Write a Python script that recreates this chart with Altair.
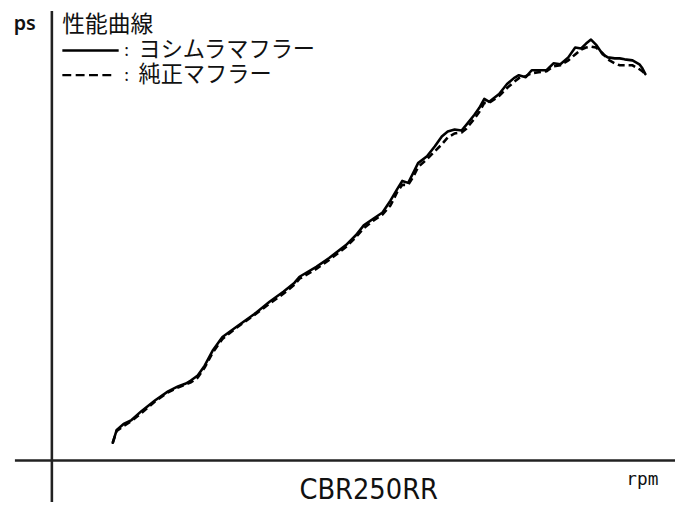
import altair as alt
import pandas as pd

# engine speed (rpm) sample points
rpm = [5500, 5600, 5775, 5975, 6225, 6575, 6900, 7150, 7350, 7475, 7650, 7825, 8025, 8275,
       8650, 9075, 9475, 9825, 10100, 10225, 10650, 10975, 11400, 11650, 11850, 12100, 12325,
       12525, 12700, 12825, 12975, 13100, 13225, 13450, 13650, 13825, 13975, 14150, 14325,
       14450, 14650, 14775, 14900, 15025, 15275, 15475, 15650, 15775, 15950, 16100, 16275,
       16475, 16650, 16825, 17025, 17200, 17350, 17475, 17600, 17725, 17900, 18025, 18200,
       18325, 18450, 18650, 18825, 18900, 18975]

# ヨシムラマフラー (solid)
ps_yoshimura = [1.8, 3.1, 3.7, 4.1, 5.0, 6.1, 7.0, 7.5, 7.8, 8.1, 8.6, 9.6, 11.1, 12.5, 13.6,
                14.8, 16.1, 17.1, 18.0, 18.6, 19.6, 20.5, 21.8, 22.8, 23.8, 24.5, 25.1, 26.3,
                27.5, 28.3, 28.1, 29.1, 30.1, 30.8, 31.8, 32.8, 33.3, 33.5, 33.4, 34.0, 35.0,
                35.7, 36.6, 36.3, 37.1, 38.1, 38.7, 39.0, 38.8, 39.5, 39.5, 39.5, 40.2, 40.1,
                40.8, 41.8, 41.7, 42.2, 42.6, 42.1, 41.1, 40.8, 40.7, 40.7, 40.6, 40.5, 40.1,
                39.7, 39.1]

# 純正マフラー (dashed)
ps_stock = [1.8, 3.0, 3.5, 4.0, 4.8, 6.0, 6.9, 7.4, 7.7, 7.9, 8.4, 9.4, 10.9, 12.3, 13.5,
            14.7, 15.9, 16.9, 17.8, 18.4, 19.4, 20.3, 21.6, 22.6, 23.5, 24.3, 24.9, 25.8,
            27.2, 27.9, 27.9, 28.7, 29.7, 30.5, 31.3, 32.0, 32.7, 33.1, 33.2, 33.6, 34.6,
            35.3, 36.2, 36.2, 36.9, 37.7, 38.3, 38.7, 38.9, 39.2, 39.3, 39.4, 39.9, 40.0,
            40.5, 41.1, 41.6, 41.8, 41.9, 41.8, 41.2, 40.6, 40.2, 40.0, 40.0, 40.0, 39.6,
            39.4, 39.1]

series_names = ["ヨシムラマフラー", "純正マフラー"]
title_text = "性能曲線"
model_text = "CBR250RR"
x_unit = "rpm"
y_unit = "ps"

W, H = 675, 497
x_dom = [2850, 2850 + W * 25]
y_dom = [45.5 - H / 10, 45.5]

# axis cross lines (data coordinates)
h_axis = {"x": [3025], "x2": [x_dom[1]], "y": [0.0]}
v_axis = {"x": [3960], "y": [y_dom[0]], "y2": [y_dom[1]]}

df_solid = pd.DataFrame({"rpm": rpm, "ps": ps_yoshimura})
df_stock = pd.DataFrame({"rpm": rpm, "ps": ps_stock})

xs = alt.Scale(domain=x_dom, nice=False, zero=False)
ys = alt.Scale(domain=y_dom, nice=False, zero=False)

solid = alt.Chart(df_solid).mark_line(
    color="black", strokeWidth=2.6, strokeJoin="round", strokeCap="round"
).encode(x=alt.X("rpm:Q", scale=xs, axis=None), y=alt.Y("ps:Q", scale=ys, axis=None))

dashed = alt.Chart(df_stock).mark_line(
    color="black", strokeWidth=2.6, strokeDash=[7, 4]
).encode(x=alt.X("rpm:Q", scale=xs, axis=None), y=alt.Y("ps:Q", scale=ys, axis=None))

hline = alt.Chart(pd.DataFrame(h_axis)).mark_rule(color="#222", strokeWidth=2.6).encode(
    x=alt.X("x:Q", scale=xs, axis=None), x2="x2:Q", y=alt.Y("y:Q", scale=ys, axis=None)
)
vline = alt.Chart(pd.DataFrame(v_axis)).mark_rule(color="#222", strokeWidth=2.6).encode(
    x=alt.X("x:Q", scale=xs, axis=None), y=alt.Y("y:Q", scale=ys, axis=None), y2="y2:Q"
)

one = alt.Chart(pd.DataFrame({"a": [0]}))

leg_solid = one.mark_rule(color="black", strokeWidth=2.4).encode(
    x=alt.value(55), x2=alt.value(112), y=alt.value(40)
)
leg_dash = one.mark_rule(color="black", strokeWidth=2.4, strokeDash=[9, 4.5]).encode(
    x=alt.value(55), x2=alt.value(105), y=alt.value(65)
)

jp = "Noto Sans CJK JP"

def txt(s, x, y, size, font=jp, align="left", weight="normal", baseline="middle"):
    return one.mark_text(text=s, font=font, fontSize=size, align=align,
                         baseline=baseline, fontWeight=weight, color="#111").encode(
        x=alt.value(x), y=alt.value(y))

texts = [
    txt(y_unit, 17, 13, 20, font="Noto Sans", align="center", weight=600),
    txt(title_text, 55, 14, 23),
    txt(":", 120, 41, 17, align="center"),
    txt(":", 120, 66, 17, align="center"),
    txt(series_names[0], 132, 40, 22.5),
    txt(series_names[1], 132, 65, 22.5),
    txt(model_text, 365, 494, 29, font="DejaVu Sans Condensed", align="center",
        baseline="alphabetic"),
    txt(x_unit, 642, 475, 18, font="DejaVu Sans Mono", align="center"),
]

chart = alt.layer(hline, vline, solid, dashed, leg_solid, leg_dash, *texts).properties(
    width=W, height=H, autosize=alt.AutoSizeParams(type="none"), padding=0,
    background="white"
).configure_view(stroke=None)

chart.save("out.html", embed_options={"renderer": "svg", "actions": False})
